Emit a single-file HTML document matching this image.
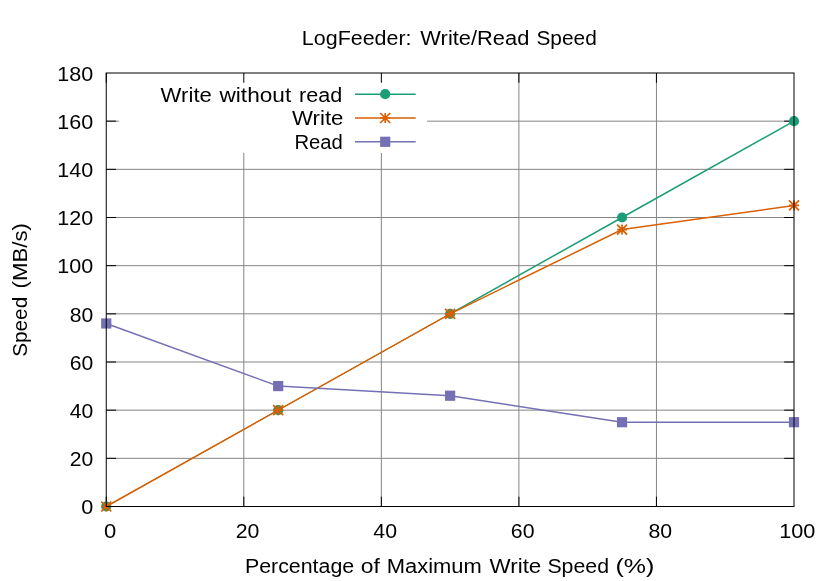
<!DOCTYPE html>
<html><head><meta charset="utf-8"><title>LogFeeder: Write/Read Speed</title>
<style>html,body{margin:0;padding:0;background:#fff;}svg{display:block;will-change:transform;}text{font-family:"Liberation Sans",sans-serif;font-size:19.6px;fill:#000;}</style>
</head><body>
<svg width="830" height="581" viewBox="0 0 830 581">
<rect x="0" y="0" width="830" height="581" fill="#ffffff"/>
<g stroke="#858585" stroke-width="1" fill="none">
<line x1="106.25" y1="458.33" x2="794.00" y2="458.33"/>
<line x1="106.25" y1="410.17" x2="794.00" y2="410.17"/>
<line x1="106.25" y1="362.00" x2="794.00" y2="362.00"/>
<line x1="106.25" y1="313.83" x2="794.00" y2="313.83"/>
<line x1="106.25" y1="265.67" x2="794.00" y2="265.67"/>
<line x1="106.25" y1="217.50" x2="794.00" y2="217.50"/>
<line x1="106.25" y1="169.33" x2="794.00" y2="169.33"/>
<line x1="106.25" y1="121.17" x2="794.00" y2="121.17"/>
<line x1="243.80" y1="73.00" x2="243.80" y2="506.50"/>
<line x1="381.35" y1="73.00" x2="381.35" y2="506.50"/>
<line x1="518.90" y1="73.00" x2="518.90" y2="506.50"/>
<line x1="656.45" y1="73.00" x2="656.45" y2="506.50"/>
</g>
<rect x="119" y="73.6" width="308" height="79.3" fill="#ffffff"/>
<g stroke="#000000" stroke-width="1" fill="none">
<line x1="106.25" y1="506.50" x2="116.05" y2="506.50"/>
<line x1="794.00" y1="506.50" x2="784.20" y2="506.50"/>
<line x1="106.25" y1="458.33" x2="116.05" y2="458.33"/>
<line x1="794.00" y1="458.33" x2="784.20" y2="458.33"/>
<line x1="106.25" y1="410.17" x2="116.05" y2="410.17"/>
<line x1="794.00" y1="410.17" x2="784.20" y2="410.17"/>
<line x1="106.25" y1="362.00" x2="116.05" y2="362.00"/>
<line x1="794.00" y1="362.00" x2="784.20" y2="362.00"/>
<line x1="106.25" y1="313.83" x2="116.05" y2="313.83"/>
<line x1="794.00" y1="313.83" x2="784.20" y2="313.83"/>
<line x1="106.25" y1="265.67" x2="116.05" y2="265.67"/>
<line x1="794.00" y1="265.67" x2="784.20" y2="265.67"/>
<line x1="106.25" y1="217.50" x2="116.05" y2="217.50"/>
<line x1="794.00" y1="217.50" x2="784.20" y2="217.50"/>
<line x1="106.25" y1="169.33" x2="116.05" y2="169.33"/>
<line x1="794.00" y1="169.33" x2="784.20" y2="169.33"/>
<line x1="106.25" y1="121.17" x2="116.05" y2="121.17"/>
<line x1="794.00" y1="121.17" x2="784.20" y2="121.17"/>
<line x1="106.25" y1="506.50" x2="106.25" y2="496.70"/>
<line x1="106.25" y1="73.00" x2="106.25" y2="82.80"/>
<line x1="243.80" y1="506.50" x2="243.80" y2="496.70"/>
<line x1="243.80" y1="73.00" x2="243.80" y2="82.80"/>
<line x1="381.35" y1="506.50" x2="381.35" y2="496.70"/>
<line x1="381.35" y1="73.00" x2="381.35" y2="82.80"/>
<line x1="518.90" y1="506.50" x2="518.90" y2="496.70"/>
<line x1="518.90" y1="73.00" x2="518.90" y2="82.80"/>
<line x1="656.45" y1="506.50" x2="656.45" y2="496.70"/>
<line x1="656.45" y1="73.00" x2="656.45" y2="82.80"/>
</g>
<line x1="355.00" y1="94.20" x2="415.70" y2="94.20" stroke="#1b9e77" stroke-width="1.5"/>
<polyline fill="none" stroke="#1b9e77" stroke-width="0.9" points="106.25,506.50 278.19,410.17 450.12,313.83"/>
<polyline fill="none" stroke="#1b9e77" stroke-width="1.5" stroke-linejoin="round" points="450.12,313.83 622.06,217.50 794.00,121.17"/>
<circle cx="106.25" cy="506.50" r="5.1" fill="#1b9e77"/>
<circle cx="278.19" cy="410.17" r="5.1" fill="#1b9e77"/>
<circle cx="450.12" cy="313.83" r="5.1" fill="#1b9e77"/>
<circle cx="622.06" cy="217.50" r="5.1" fill="#1b9e77"/>
<circle cx="794.00" cy="121.17" r="5.1" fill="#1b9e77"/>
<circle cx="385.20" cy="94.20" r="5.1" fill="#1b9e77"/>
<line x1="355.00" y1="118.00" x2="415.70" y2="118.00" stroke="#d95f02" stroke-width="1.5"/>
<polyline fill="none" stroke="#d95f02" stroke-width="1.5" stroke-linejoin="round" points="106.25,506.50 278.19,410.17 450.12,313.83 622.06,229.54 794.00,205.46"/>
<path d="M101.25,506.50 h10.00 M106.25,501.50 v10.00 M101.25,501.50 l10.00,10.00 M101.25,511.50 l10.00,-10.00" stroke="#d95f02" stroke-width="1.7" fill="none"/>
<path d="M273.19,410.17 h10.00 M278.19,405.17 v10.00 M273.19,405.17 l10.00,10.00 M273.19,415.17 l10.00,-10.00" stroke="#d95f02" stroke-width="1.7" fill="none"/>
<path d="M445.12,313.83 h10.00 M450.12,308.83 v10.00 M445.12,308.83 l10.00,10.00 M445.12,318.83 l10.00,-10.00" stroke="#d95f02" stroke-width="1.7" fill="none"/>
<path d="M617.06,229.54 h10.00 M622.06,224.54 v10.00 M617.06,224.54 l10.00,10.00 M617.06,234.54 l10.00,-10.00" stroke="#d95f02" stroke-width="1.7" fill="none"/>
<path d="M789.00,205.46 h10.00 M794.00,200.46 v10.00 M789.00,200.46 l10.00,10.00 M789.00,210.46 l10.00,-10.00" stroke="#d95f02" stroke-width="1.7" fill="none"/>
<path d="M380.20,118.00 h10.00 M385.20,113.00 v10.00 M380.20,113.00 l10.00,10.00 M380.20,123.00 l10.00,-10.00" stroke="#d95f02" stroke-width="1.7" fill="none"/>
<line x1="355.00" y1="141.80" x2="415.70" y2="141.80" stroke="#7570b3" stroke-width="1.5"/>
<polyline fill="none" stroke="#7570b3" stroke-width="1.5" stroke-linejoin="round" points="106.25,323.47 278.19,386.08 450.12,395.72 622.06,422.21 794.00,422.21"/>
<rect x="101.15" y="318.37" width="10.20" height="10.20" fill="#7570b3"/>
<rect x="273.09" y="380.98" width="10.20" height="10.20" fill="#7570b3"/>
<rect x="445.02" y="390.62" width="10.20" height="10.20" fill="#7570b3"/>
<rect x="616.96" y="417.11" width="10.20" height="10.20" fill="#7570b3"/>
<rect x="788.90" y="417.11" width="10.20" height="10.20" fill="#7570b3"/>
<rect x="380.10" y="136.70" width="10.20" height="10.20" fill="#7570b3"/>
<g stroke="#000000" stroke-width="1" fill="none">
<rect x="106.25" y="73.00" width="687.75" height="433.50"/>
</g>
<text x="81.15" y="514.30" textLength="12.05" lengthAdjust="spacingAndGlyphs">0</text>
<text x="69.70" y="466.13" textLength="23.50" lengthAdjust="spacingAndGlyphs">20</text>
<text x="69.70" y="417.97" textLength="23.50" lengthAdjust="spacingAndGlyphs">40</text>
<text x="69.70" y="369.80" textLength="23.50" lengthAdjust="spacingAndGlyphs">60</text>
<text x="69.70" y="321.63" textLength="23.50" lengthAdjust="spacingAndGlyphs">80</text>
<text x="57.25" y="273.47" textLength="35.95" lengthAdjust="spacingAndGlyphs">100</text>
<text x="57.25" y="225.30" textLength="35.95" lengthAdjust="spacingAndGlyphs">120</text>
<text x="57.25" y="177.13" textLength="35.95" lengthAdjust="spacingAndGlyphs">140</text>
<text x="57.25" y="128.97" textLength="35.95" lengthAdjust="spacingAndGlyphs">160</text>
<text x="57.25" y="80.80" textLength="35.95" lengthAdjust="spacingAndGlyphs">180</text>
<text x="103.92" y="537.70" textLength="12.25" lengthAdjust="spacingAndGlyphs">0</text>
<text x="235.75" y="537.70" textLength="23.70" lengthAdjust="spacingAndGlyphs">20</text>
<text x="373.30" y="537.70" textLength="23.70" lengthAdjust="spacingAndGlyphs">40</text>
<text x="510.85" y="537.70" textLength="23.70" lengthAdjust="spacingAndGlyphs">60</text>
<text x="648.40" y="537.70" textLength="23.70" lengthAdjust="spacingAndGlyphs">80</text>
<text x="779.23" y="537.70" textLength="36.15" lengthAdjust="spacingAndGlyphs">100</text>
<text x="301.88" y="45.20" textLength="109.69" lengthAdjust="spacingAndGlyphs">LogFeeder:</text>
<text x="420.36" y="45.20" textLength="108.95" lengthAdjust="spacingAndGlyphs">Write/Read</text>
<text x="536.46" y="45.20" textLength="60.32" lengthAdjust="spacingAndGlyphs">Speed</text>
<text x="244.90" y="573.30" textLength="109.28" lengthAdjust="spacingAndGlyphs">Percentage</text>
<text x="360.70" y="573.30" textLength="19.11" lengthAdjust="spacingAndGlyphs">of</text>
<text x="386.81" y="573.30" textLength="95.05" lengthAdjust="spacingAndGlyphs">Maximum</text>
<text x="489.57" y="573.30" textLength="51.74" lengthAdjust="spacingAndGlyphs">Write</text>
<text x="547.42" y="573.30" textLength="61.58" lengthAdjust="spacingAndGlyphs">Speed</text>
<text x="615.44" y="573.30" textLength="38.89" lengthAdjust="spacingAndGlyphs">(%)</text>
<text x="160.63" y="101.60" textLength="51.21" lengthAdjust="spacingAndGlyphs">Write</text>
<text x="219.51" y="101.60" textLength="71.71" lengthAdjust="spacingAndGlyphs">without</text>
<text x="299.05" y="101.60" textLength="43.22" lengthAdjust="spacingAndGlyphs">read</text>
<text x="292.00" y="125.40" textLength="51.41" lengthAdjust="spacingAndGlyphs">Write</text>
<text x="294.42" y="149.30" textLength="48.40" lengthAdjust="spacingAndGlyphs">Read</text>
<g transform="translate(26.6,355.8) rotate(-90)">
<text x="-1.00" y="0" textLength="60.00" lengthAdjust="spacingAndGlyphs">Speed</text>
<text x="67.41" y="0" textLength="65.27" lengthAdjust="spacingAndGlyphs">(MB/s)</text>
</g>
</svg>
</body></html>
